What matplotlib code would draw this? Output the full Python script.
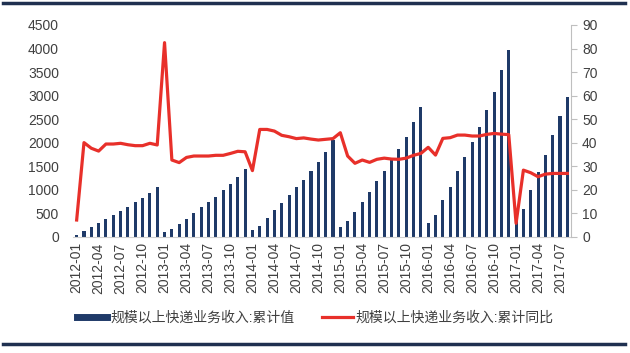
import numpy as np
import matplotlib
matplotlib.use("Agg")
import matplotlib.pyplot as plt
from matplotlib.lines import Line2D

plt.rcParams['font.family'] = ['Liberation Sans', 'Noto Sans CJK SC', 'DejaVu Sans']

# months 2012-01 .. 2017-08
months = [f"{y}-{m:02d}" for y in range(2012, 2018) for m in range(1, 13)][:68]

# 累计值 (left axis)
cum_value = [
    40, 128, 198, 284, 369, 461, 553, 631, 730, 822, 922, 1049,
    92, 156, 262, 383, 496, 624, 730, 844, 986, 1113, 1269, 1432,
    142, 234, 397, 567, 723, 893, 1049, 1215, 1395, 1580, 1801, 2056,
    200, 340, 522, 746, 948, 1193, 1392, 1645, 1858, 2127, 2446, 2751,
    288, 461, 773, 1049, 1397, 1702, 2021, 2326, 2694, 3084, 3545, 3970,
    330, 587, 994, 1375, 1737, 2162, 2574, 2978,
]

# 累计同比 (right axis)
cum_yoy = [
    7.1, 40.0, 37.6, 36.4, 39.4, 39.4, 39.7, 39.1, 38.7, 38.7, 39.7, 39.0,
    82.5, 32.6, 31.5, 33.7, 34.3, 34.3, 34.3, 34.6, 34.6, 35.4, 36.3, 36.1,
    28.1, 45.6, 45.6, 44.9, 43.1, 42.5, 41.7, 42.0, 41.5, 41.1, 41.4, 41.7,
    44.2, 34.3, 31.2, 32.6, 31.6, 32.9, 33.4, 33.0, 32.9, 33.4, 34.6, 35.4,
    38.0, 34.7, 41.8, 42.1, 43.2, 43.2, 42.8, 42.8, 43.5, 43.9, 43.6, 43.4,
    5.7, 28.3, 27.2, 25.5, 26.6, 26.9, 26.9, 26.9,
]

bar_label = "规模以上快递业务收入:累计值"
line_label = "规模以上快递业务收入:累计同比"

navy = '#1F3A68'
red = '#E8302A'
txt = '#404040'

fig = plt.figure(figsize=(6.3, 3.53), dpi=100)
ax = fig.add_axes([73 / 630, 1 - 236.7 / 353, 498 / 630, 211.7 / 353])
x = np.arange(len(months))

ax.bar(x, cum_value, width=0.42, color=navy, zorder=2)
ax.set_xlim(-0.5, len(months) - 0.5)
ax.set_ylim(0, 4500)
ax.set_yticks(range(0, 4501, 500))
ax.set_xticks(x[::3])
ax.set_xticklabels(months[::3], rotation=90)
ax.tick_params(axis='x', length=0, pad=4, labelsize=10, colors=txt)
ax.tick_params(axis='y', length=0, pad=10, labelsize=10, colors=txt)
for s in ['top', 'right', 'left']:
    ax.spines[s].set_visible(False)
ax.spines['bottom'].set_color('#D0D0D0')

ax2 = ax.twinx()
ax2.plot(x, cum_yoy, color=red, lw=2.3, zorder=3)
ax2.set_ylim(0, 90)
ax2.set_yticks(range(0, 91, 10))
ax2.tick_params(axis='y', direction='out', length=4, color='#BFBFBF', pad=4,
                labelsize=10, colors=txt)
for s in ['top', 'left', 'bottom']:
    ax2.spines[s].set_visible(False)
ax2.spines['right'].set_color('#BFBFBF')
ax2.tick_params(axis='y', color='#BFBFBF')

handles = [Line2D([0], [0], color=navy, lw=5),
           Line2D([0], [0], color=red, lw=2.3)]
fig.legend(handles, [bar_label, line_label], loc='center',
           bbox_to_anchor=(0.5, 1 - 318 / 353), ncol=2, frameon=False,
           fontsize=10, handlelength=2.2, handletextpad=0.2, columnspacing=2.0,
           labelcolor=txt)

# header / footer rules
fig.add_artist(Line2D([3 / 630, 625 / 630], [1 - 3 / 353, 1 - 3 / 353],
                      color='#1F3050', lw=2.5))
fig.add_artist(Line2D([3 / 630, 625 / 630], [1 - 344 / 353, 1 - 344 / 353],
                      color='#1F3050', lw=2.5))

fig.savefig('out.png', dpi=100)
